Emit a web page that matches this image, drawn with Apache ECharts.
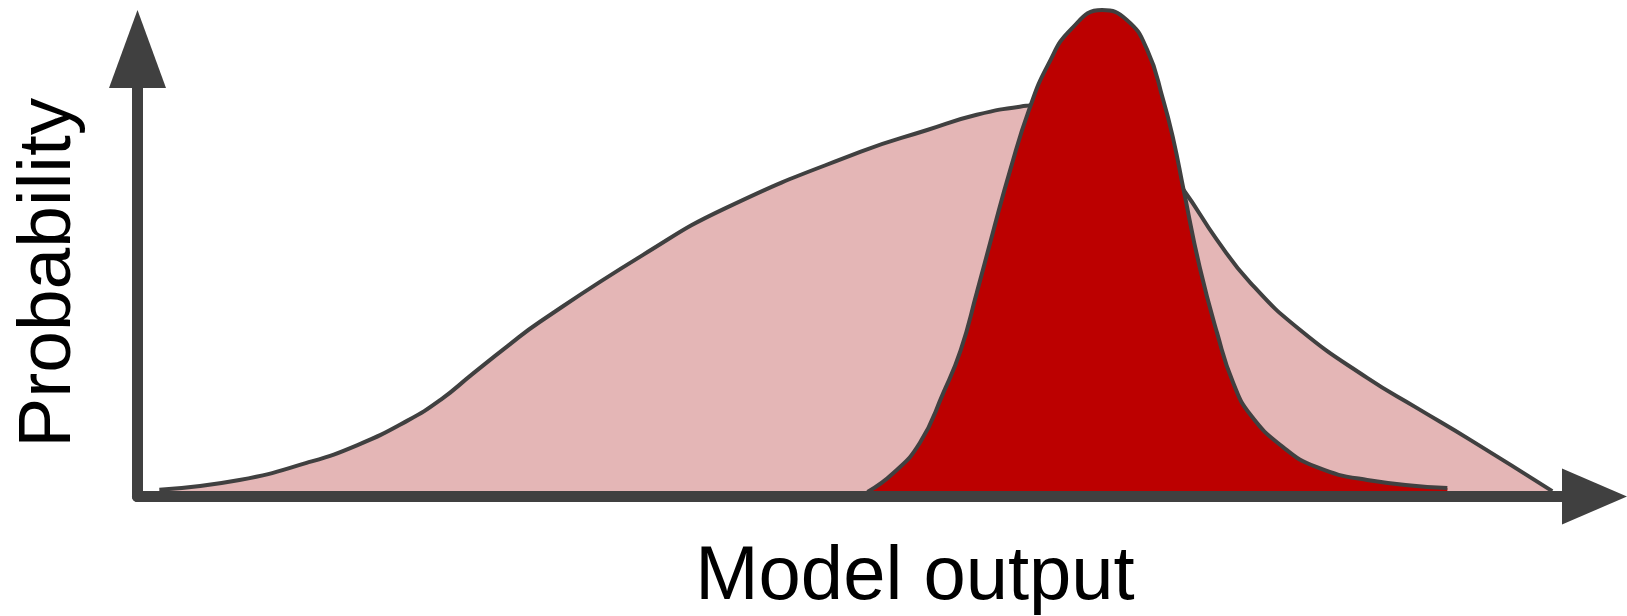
<!DOCTYPE html>
<html>
<head>
<meta charset="utf-8">
<script src="https://cdn.jsdelivr.net/npm/echarts@6/dist/echarts.min.js"></script>
<style>
  html, body { margin: 0; padding: 0; background: #fff; }
  #chart { width: 1627px; height: 616px; }
</style>
</head>
<body>
<div id="chart"></div>
<script>
  // broad distribution (light pink)
  var wideX = [1.5, 7.0, 11.6, 15.1, 18.5, 20.8, 23.0, 25.4, 27.6, 34.7, 40.4, 49.6, 54.2, 57.6, 61.0, 63.7, 66.7, 69.5, 71.8, 74.1, 76.4, 79.8, 84.4, 87.8, 91.5, 97.1]
  var wideY = [1.5, 3.7, 7.5, 11.5, 16.9, 21.6, 27.4, 33.6, 39.0, 54.0, 64.5, 77.0, 81.9, 85.3, 87.3, 87.9, 85.3, 77.9, 68.5, 57.3, 47.7, 37.2, 26.5, 19.8, 12.6, 1.2]

  // narrow distribution (dark red)
  var narrowX = [50.1, 51.9, 53.7, 55.3, 56.5, 57.6, 58.7, 59.9, 61.2, 62.5, 64.1, 66.2, 67.9, 69.3, 70.4, 71.1, 71.8, 72.9, 74.1, 75.2, 76.4, 78.6, 80.9, 84.4, 89.9]
  var narrowY = [1.0, 5.3, 12.0, 23.1, 32.7, 45.5, 58.9, 73.0, 86.5, 96.5, 104.5, 108.7, 106.5, 99.8, 88.6, 79.7, 68.5, 51.3, 36.5, 25.4, 18.2, 11.1, 6.6, 3.7, 1.9]

  var xName = 'Model output'
  var yName = 'Probability'

  function pairs(xs, ys) {
    return xs.map(function (x, i) { return [x, ys[i]] })
  }

  var chart = echarts.init(document.getElementById('chart'))
  var option = {
    animation: false,
    grid: { left: 137.5, right: 32.5, top: 49, bottom: 119.5, outerBoundsMode: 'none', containLabel: false },
    xAxis: {
      type: 'value', min: 0, max: 100, z: 10,
      name: xName,
      nameLocation: 'middle',
      nameGap: 44,
      nameTextStyle: { fontFamily: 'Liberation Sans', fontSize: 76, color: '#000', padding: [0, 0, 0, 98] },
      axisLine: {
        symbol: ['none', 'triangle'],
        symbolSize: [56, 65],
        lineStyle: { color: '#404040', width: 11 }
      },
      axisTick: { show: false },
      axisLabel: { show: false },
      splitLine: { show: false }
    },
    yAxis: {
      type: 'value', min: 0, max: 100, z: 10,
      name: yName,
      nameLocation: 'middle',
      nameRotate: 90,
      nameGap: 51,
      nameTextStyle: { fontFamily: 'Liberation Sans', fontSize: 75, color: '#000' },
      axisLine: {
        symbol: ['none', 'triangle'],
        symbolSize: [57, 78],
        lineStyle: { color: '#404040', width: 11 }
      },
      axisTick: { show: false },
      axisLabel: { show: false },
      splitLine: { show: false }
    },
    series: [
      {
        type: 'line',
        z: 2,
        data: pairs(wideX, wideY),
        smooth: 0.5,
        showSymbol: false,
        clip: false,
        lineStyle: { color: '#404040', width: 4 },
        areaStyle: { color: '#e4b6b6', opacity: 1 }
      },
      {
        type: 'line',
        z: 3,
        data: pairs(narrowX, narrowY),
        smooth: 0.5,
        showSymbol: false,
        clip: false,
        lineStyle: { color: '#404040', width: 4 },
        areaStyle: { color: '#bc0000', opacity: 1 }
      }
    ]
  }
  chart.setOption(option)
</script>
</body>
</html>
